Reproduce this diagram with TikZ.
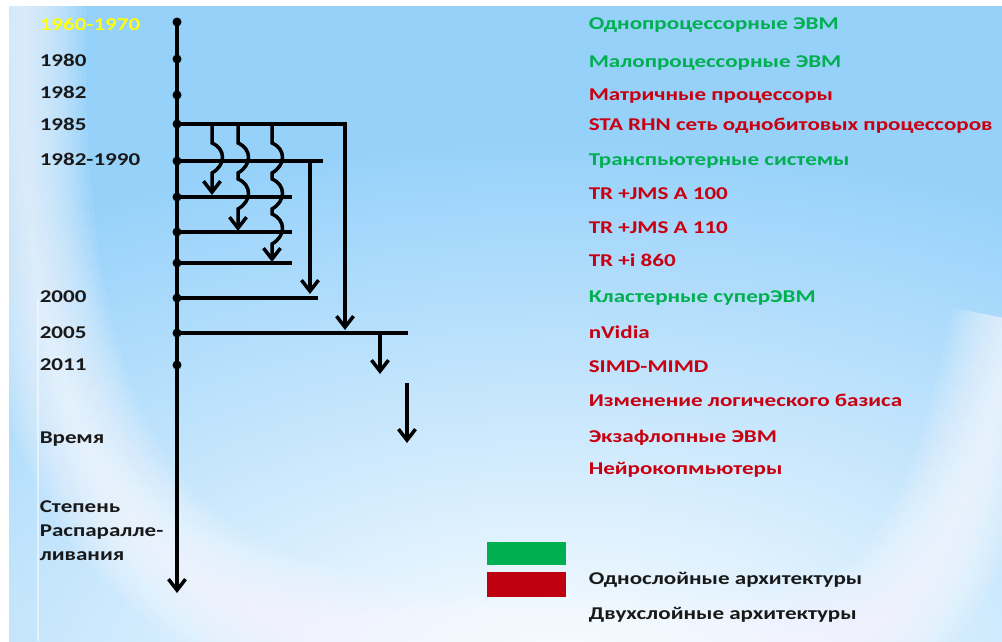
\documentclass[tikz,border=0pt]{standalone}
\usepackage{fontspec}
\setmainfont{Carlito}[FakeStretch=1.28]
\usetikzlibrary{positioning, arrows.meta}

\definecolor{fonblue}{RGB}{150,209,250}
\definecolor{zelen}{RGB}{0,176,80}
\definecolor{krasn}{RGB}{200,0,16}
\definecolor{zheltyj}{RGB}{255,255,0}

\begin{document}
\begin{tikzpicture}[x=1pt, y=-1pt, line width=3.5pt,
	dot/.style={circle, fill=black, inner sep=0pt, minimum size=9pt},
	god/.style={anchor=base west, inner sep=0pt, text=black!90,
		font=\fontsize{18}{24}\selectfont\bfseries},
	arch/.style={god, text=krasn},
	strel/.style={-{Straight Barb[length=11pt, width=17pt]}}]
	\useasboundingbox (0,0) rectangle (1002,641);

	% Фон
	\fill[white] (0,0) rectangle (1002,641);
	\fill[fonblue] (9,6) rectangle (1002,641);
	\begin{scope}
		\clip (9,6) rectangle (1002,641);
		\shade[inner color=white, outer color=fonblue] (560,700) ellipse [x radius=1000pt, y radius=560pt];
		\foreach \w in {8,16,...,128} {
			\draw[white, line width=\w pt, opacity=0.07]
				(22,0) .. controls (18,260) and (50,480) .. (200,580)
				.. controls (340,680) and (760,690) .. (880,620)
				.. controls (950,570) and (990,450) .. (1015,320);
		}
		\draw[white, line width=1.5pt, opacity=0.5] (38,300) -- (38,641);
	\end{scope}

	% Ось времени
	\foreach \n/\y in {1/22, 2/59, 3/95, 4/124, 5/161, 6/197, 7/232, 8/263, 9/298, 10/333, 11/365} {
		\node[dot] (d\n) at (177,\y) {};
	}
	\coordinate (os) at (177,593);
	\draw[strel] (d1.center) -- (os);

	% Ветви
	\foreach \n/\y/\xe in {5/161/323, 6/197/292, 7/232/292, 8/263/292, 9/298/318, 10/333/408} {
		\coordinate (h\n) at (\xe,\y);
		\draw (d\n.center) -- (h\n);
	}
	\coordinate (h4) at (345,124);
	\coordinate (e4) at (345,330);
	\draw[strel] (d4.center) -- (h4) -- (e4);
	\coordinate (v5a) at (310,161);
	\coordinate (v5b) at (310,294);
	\draw[strel] (v5a) -- (v5b);
	\coordinate (v10a) at (380,333);
	\coordinate (v10b) at (380,374);
	\draw[strel] (v10a) -- (v10b);
	\coordinate (sa) at (407,383);
	\coordinate (sb) at (407,443);
	\draw[strel] (sa) -- (sb);

	% Волнистые стрелки
	\foreach \n/\xw/\perek/\yk in {1/212/{161}/195, 2/238/{161,197}/231, 3/272/{161,197,232}/262} {
		\coordinate (vs\n) at (\xw,124);
		\coordinate (ve\n) at (\xw,\yk);
		\draw[strel] (vs\n) \foreach \yc in \perek {
			-- (\xw,\yc-18) .. controls (\xw+14,\yc-12) and (\xw+14,\yc+4) .. (\xw,\yc+12)
		} -- (ve\n);
	}

	% Годы
	\node[god, text=zheltyj] (g1) at (38,30) {1960-1970};
	\foreach \n/\y/\txt in {2/66/1980, 3/98/1982, 4/130/1985, 5/165/1982-1990, 9/302/2000, 10/338/2005, 11/370/2011} {
		\node[god] (g\n) at (38,\y) {\txt};
	}
	\node[god] (vremya) at (38,443) {Время};
	\node[god, anchor=north west, align=left] (stepen) at (38,499) {Степень\\Распаралле-\\ливания};

	% Архитектуры
	\foreach \n/\y/\cv/\txt in {1/29/zelen/Однопроцессорные ЭВМ, 2/67/zelen/Малопроцессорные ЭВМ,
		3/100/krasn/Матричные процессоры, 4/130/krasn/STA RHN сеть однобитовых процессоров,
		5/165/zelen/Транспьютерные системы, 6/199/krasn/TR +JMS A 100, 7/233/krasn/TR +JMS A 110,
		8/266/krasn/TR +i 860, 9/302/zelen/Кластерные суперЭВМ, 10/338/krasn/nVidia,
		11/372/krasn/SIMD-MIMD, 12/406/krasn/Изменение логического базиса,
		13/442/krasn/Экзафлопные ЭВМ, 14/474/krasn/Нейрокопмьютеры} {
		\node[arch, text=\cv] (a\n) at (587,\y) {\txt};
	}

	% Легенда
	\fill[zelen] (487,542) rectangle (566,565);
	\fill[krasn!95!black] (487,572) rectangle (566,597);
	\node[god] (odno) at (587,584) {Однослойные архитектуры};
	\node[god] (dvuh) at (587,619) {Двухслойные архитектуры};
\end{tikzpicture}
\end{document}
